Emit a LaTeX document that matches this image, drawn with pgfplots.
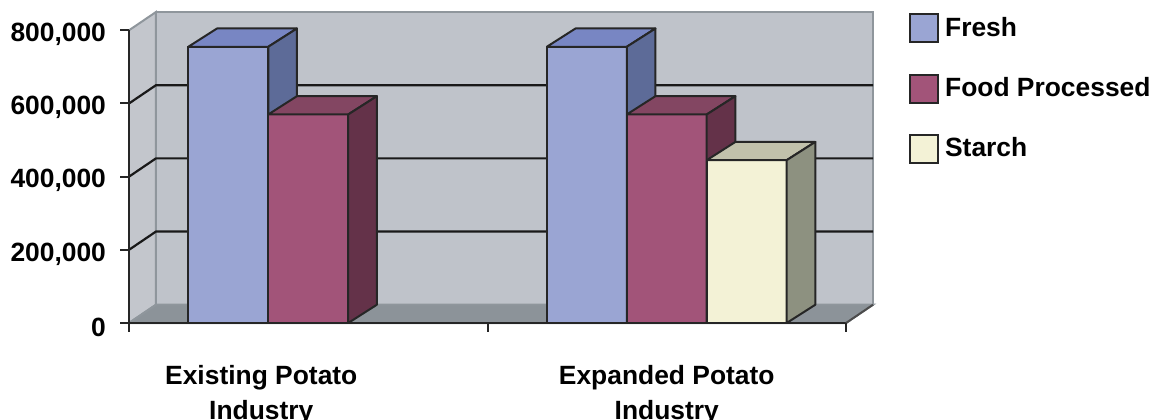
\documentclass[border=0pt]{standalone}
\usepackage{fontspec}
\setmainfont{Liberation Sans}
\usepackage{pgfplots}
\pgfplotsset{compat=1.18}
\definecolor{frF}{HTML}{9AA5D3}
\definecolor{frT}{HTML}{7886C3}
\definecolor{frS}{HTML}{5D6B98}
\definecolor{fpF}{HTML}{A25479}
\definecolor{fpT}{HTML}{834662}
\definecolor{fpS}{HTML}{643249}
\definecolor{stF}{HTML}{F3F2D6}
\definecolor{stT}{HTML}{C1C1AB}
\definecolor{stS}{HTML}{8D9180}
\definecolor{wallB}{HTML}{BFC3CA}
\definecolor{wallL}{HTML}{C3C6CC}
\definecolor{floorC}{HTML}{8C9399}
\definecolor{edgeC}{HTML}{8F969C}
\begin{document}
\begin{tikzpicture}
\begin{axis}[
  scale only axis, width=372pt, height=155.5pt,
  xmin=-0.5, xmax=1.5753, ymin=0, ymax=850000,
  axis lines=left, axis line style={draw=none,-},
  major tick length=0pt, tick style={draw=none},
  clip=false,
  ytick={0,200000,400000,600000,800000},
  scaled y ticks=false,
  /pgf/number format/fixed,
  /pgf/number format/1000 sep={,},
  /pgf/number format/assume math mode=true,
  yticklabel style={xshift=-8pt, yshift=-2pt},
  xtick={-0.131,1.0},
  xticklabels={{Existing Potato\\Industry},{Expanded Potato\\Industry}},
  xticklabel style={align=center, yshift=-17.5pt},
  tick label style={font=\fontsize{13.2}{17.5}\selectfont\bfseries},
  legend style={at={(rel axis cs:1.048,1.0)}, anchor=north west, draw=none, fill=none,
    inner sep=0pt, row sep=14pt, nodes={inner sep=2.5pt},
    font=\fontsize{13.2}{15}\selectfont\bfseries},
  legend cell align=left,
  legend image code/.code={\draw[#1, line width=1pt] (0pt,-7pt) rectangle (14pt,7pt); \path[draw=none,fill=none] (15pt,0pt);},
]
\addlegendimage{fill=frF, draw=black!85}
\addlegendentry{Fresh}
\addlegendimage{fill=fpF, draw=black!85}
\addlegendentry{Food Processed}
\addlegendimage{fill=stF, draw=black!85}
\addlegendentry{Starch}

% walls and floor
\addplot[forget plot, fill=wallB, draw=edgeC, line width=1pt] coordinates {(-0.4247,50000)(1.5753,50000)(1.5753,850000)(-0.4247,850000)(-0.4247,50000)};
\addplot[forget plot, fill=wallL, draw=edgeC, line width=1pt] coordinates {(-0.5,0)(-0.4247,50000)(-0.4247,850000)(-0.5,800000)};
\addplot[forget plot, fill=floorC, draw=edgeC, line width=1pt] coordinates {(-0.5,0)(1.5,0)(1.5753,50000)(-0.4247,50000)(-0.5,0)};
% gridlines
\addplot[forget plot, black!90, line width=1.1pt] coordinates {(-0.5,200000)(-0.4247,250000)(1.5753,250000)};
\addplot[forget plot, black!90, line width=1.1pt] coordinates {(-0.5,400000)(-0.4247,450000)(1.5753,450000)};
\addplot[forget plot, black!90, line width=1.1pt] coordinates {(-0.5,600000)(-0.4247,650000)(1.5753,650000)};

% Existing: Fresh
\addplot[forget plot, ybar, bar width=0.223, bar shift=0pt, fill=frF, draw=black!85, line width=1pt] coordinates {(-0.223,755000)};
\addplot[forget plot, fill=frT, draw=black!85, line width=1pt, line join=round] coordinates {(-0.3345,755000)(-0.1115,755000)(-0.0315,805000)(-0.2545,805000)(-0.3345,755000)};
\addplot[forget plot, fill=frS, draw=black!85, line width=1pt, line join=round] coordinates {(-0.1115,0)(-0.0315,50000)(-0.0315,805000)(-0.1115,755000)(-0.1115,0)};
% Existing: Food Processed
\addplot[forget plot, ybar, bar width=0.223, bar shift=0pt, fill=fpF, draw=black!85, line width=1pt] coordinates {(0,570000)};
\addplot[forget plot, fill=fpT, draw=black!85, line width=1pt, line join=round] coordinates {(-0.1115,570000)(0.1115,570000)(0.1915,620000)(-0.0315,620000)(-0.1115,570000)};
\addplot[forget plot, fill=fpS, draw=black!85, line width=1pt, line join=round] coordinates {(0.1115,0)(0.1915,50000)(0.1915,620000)(0.1115,570000)(0.1115,0)};

% Expanded: Fresh
\addplot[forget plot, ybar, bar width=0.223, bar shift=0pt, fill=frF, draw=black!85, line width=1pt] coordinates {(0.777,755000)};
\addplot[forget plot, fill=frT, draw=black!85, line width=1pt, line join=round] coordinates {(0.6655,755000)(0.8885,755000)(0.9685,805000)(0.7455,805000)(0.6655,755000)};
\addplot[forget plot, fill=frS, draw=black!85, line width=1pt, line join=round] coordinates {(0.8885,0)(0.9685,50000)(0.9685,805000)(0.8885,755000)(0.8885,0)};
% Expanded: Food Processed
\addplot[forget plot, ybar, bar width=0.223, bar shift=0pt, fill=fpF, draw=black!85, line width=1pt] coordinates {(1.0,570000)};
\addplot[forget plot, fill=fpT, draw=black!85, line width=1pt, line join=round] coordinates {(0.8885,570000)(1.1115,570000)(1.1915,620000)(0.9685,620000)(0.8885,570000)};
\addplot[forget plot, fill=fpS, draw=black!85, line width=1pt, line join=round] coordinates {(1.1115,0)(1.1915,50000)(1.1915,620000)(1.1115,570000)(1.1115,0)};
% Expanded: Starch
\addplot[forget plot, ybar, bar width=0.223, bar shift=0pt, fill=stF, draw=black!85, line width=1pt] coordinates {(1.223,445000)};
\addplot[forget plot, fill=stT, draw=black!85, line width=1pt, line join=round] coordinates {(1.1115,445000)(1.3345,445000)(1.4145,495000)(1.1915,495000)(1.1115,445000)};
\addplot[forget plot, fill=stS, draw=black!85, line width=1pt, line join=round] coordinates {(1.3345,0)(1.4145,50000)(1.4145,495000)(1.3345,445000)(1.3345,0)};

% front axes
\addplot[forget plot, black!85, line width=1pt] coordinates {(-0.5,800000)(-0.5,-25000)};
\addplot[forget plot, black!85, line width=1pt] coordinates {(-0.525,0)(1.5,0)};
\addplot[forget plot, black!70, line width=1pt] coordinates {(1.5,0)(1.5753,50000)};
\addplot[forget plot, black!85, line width=1pt] coordinates {(-0.525,200000)(-0.5,200000)};
\addplot[forget plot, black!85, line width=1pt] coordinates {(-0.525,400000)(-0.5,400000)};
\addplot[forget plot, black!85, line width=1pt] coordinates {(-0.525,600000)(-0.5,600000)};
\addplot[forget plot, black!85, line width=1pt] coordinates {(-0.525,800000)(-0.5,800000)};
\addplot[forget plot, black!85, line width=1pt] coordinates {(0.5,0)(0.5,-25000)};
\addplot[forget plot, black!85, line width=1pt] coordinates {(1.5,0)(1.5,-25000)};
\end{axis}
\pgfresetboundingbox
\path[use as bounding box] ([shift={(-64.5pt,-48pt)}]current axis.south west) rectangle ++(582.5pt,209.5pt);
\end{tikzpicture}
\end{document}
